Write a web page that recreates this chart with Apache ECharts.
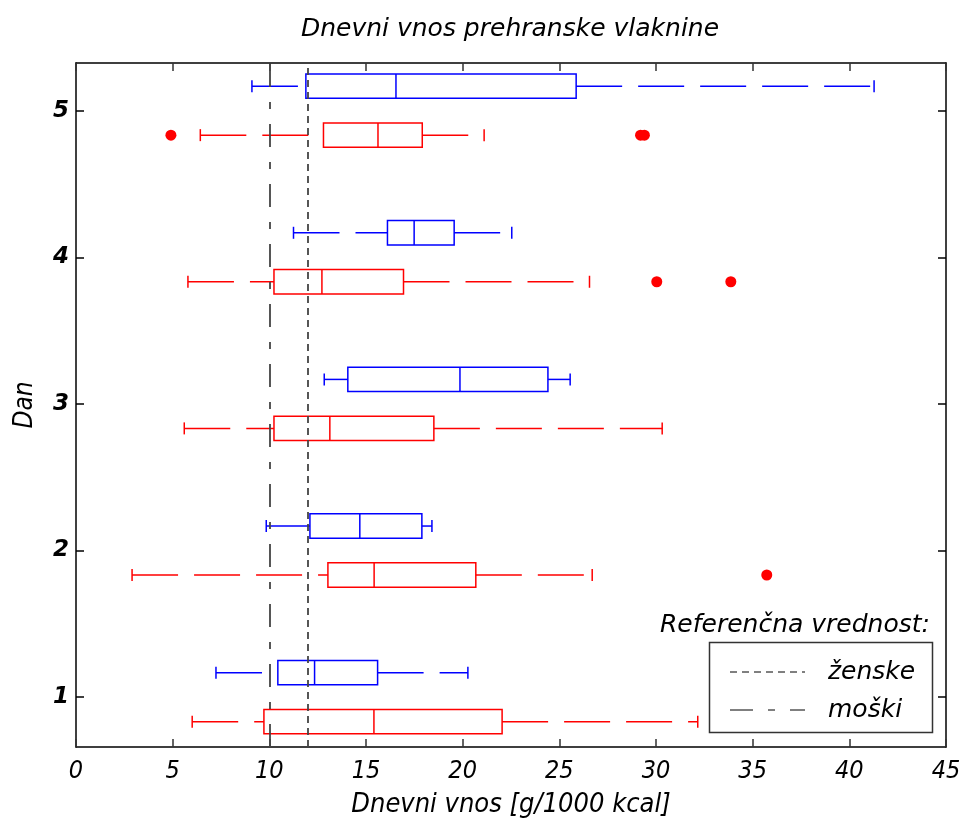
<!DOCTYPE html>
<html><head><meta charset="utf-8">
<script src="https://cdn.jsdelivr.net/npm/echarts@6/dist/echarts.min.js"></script>
<style>html,body{margin:0;padding:0;background:#fff}#c{width:963px;height:818px}</style>
</head><body><div id="c"></div>
<script>
// ---- data ----
const days = [1, 2, 3, 4, 5];
const yTickLabels = ['1', '2', '3', '4', '5'];
// [lower whisker, Q1, median, Q3, upper whisker]
const blueStats = [
  [7.24, 10.44, 12.34, 15.60, 20.27],
  [9.84, 12.10, 14.68, 17.89, 18.41],
  [12.84, 14.06, 19.86, 24.41, 25.56],
  [11.25, 16.11, 17.49, 19.56, 22.54],
  [9.10, 11.89, 16.55, 25.87, 41.28]
];
const redStats = [
  [6.01, 9.72, 15.41, 22.04, 32.16],
  [2.90, 13.03, 15.42, 20.68, 26.70],
  [5.60, 10.24, 13.13, 18.51, 30.32],
  [5.79, 10.24, 12.72, 16.94, 26.56],
  [6.43, 12.80, 15.62, 17.91, 21.11]
];
const redOutlierDays = [2, 4, 4, 5, 5, 5];
const redOutlierValues = [35.73, 30.04, 33.87, 4.91, 29.2, 29.4];
const refZenske = 12;
const refMoski = 10;
const titleText = 'Dnevni vnos prehranske vlaknine';
const xName = 'Dnevni vnos [g/1000 kcal]';
const yName = 'Dan';
const legendTitle = 'Referenčna vrednost:';
const legendNames = ['ženske', 'moški'];

// ---- layout constants ----
const OFF = 0.167, HALF = 0.083, CAP = 6;
const BLUE = '#0000ff', RED = '#ff0000';
const FONT = "'DejaVu Sans', sans-serif";
const COND = "'DejaVu Sans Condensed', 'DejaVu Sans', sans-serif";
const DASH_M = [23, 15, 7, 15], DASH_Z = [7, 5];

function boxRender(color) {
  return function (params, api) {
    const y = api.value(0);
    const mn = api.coord([api.value(1), y]);
    const q1 = api.coord([api.value(2), y]);
    const md = api.coord([api.value(3), y]);
    const q3 = api.coord([api.value(4), y]);
    const mx = api.coord([api.value(5), y]);
    const h = Math.abs(api.size([0, HALF])[1]);
    const cy = mn[1];
    const st = { stroke: color, lineWidth: 1.5, fill: null };
    const dash = { stroke: color, lineWidth: 1.5, lineDash: [46, 16], fill: null };
    return {
      type: 'group', children: [
        { type: 'line', shape: { x1: mn[0], y1: cy, x2: q1[0], y2: cy }, style: dash },
        { type: 'line', shape: { x1: q3[0], y1: cy, x2: mx[0], y2: cy }, style: dash },
        { type: 'line', shape: { x1: mn[0], y1: cy - CAP, x2: mn[0], y2: cy + CAP }, style: st },
        { type: 'line', shape: { x1: mx[0], y1: cy - CAP, x2: mx[0], y2: cy + CAP }, style: st },
        { type: 'rect', shape: { x: q1[0], y: cy - h, width: q3[0] - q1[0], height: 2 * h }, style: { stroke: color, lineWidth: 1.5, fill: 'none' } },
        { type: 'line', shape: { x1: md[0], y1: cy - h, x2: md[0], y2: cy + h }, style: st }
      ]
    };
  };
}

const chart = echarts.init(document.getElementById('c'));
const yMin = 0.66, yMax = 5.325;

chart.setOption({
  animation: false,
  backgroundColor: '#fff',
  title: {
    text: titleText, left: 505, top: 12, textAlign: 'center',
    textStyle: { fontFamily: FONT, fontStyle: 'italic', fontWeight: 'normal', fontSize: 25, color: '#000' }
  },
  grid: { left: 76, right: 17, top: 63, bottom: 71, containLabel: false, outerBoundsMode: 'none' },
  xAxis: [{
    type: 'value', min: 0, max: 45, interval: 5, position: 'bottom',
    axisLine: { show: true, onZero: false, lineStyle: { color: '#000', width: 1.5 } },
    axisTick: { show: true, inside: true, length: 8, lineStyle: { color: '#333', width: 1.5 } },
    axisLabel: { margin: 12, fontFamily: COND, fontStyle: 'italic', fontSize: 25, color: '#000' },
    splitLine: { show: false },
    name: xName, nameLocation: 'middle', nameGap: 44,
    nameTextStyle: { fontFamily: COND, fontStyle: 'italic', fontSize: 27, color: '#000' }
  }, {
    type: 'value', min: 0, max: 45, interval: 5, position: 'top',
    axisLine: { show: true, onZero: false, lineStyle: { color: '#000', width: 1.5 } },
    axisTick: { show: true, inside: true, length: 8, lineStyle: { color: '#333', width: 1.5 } },
    axisLabel: { show: false }, splitLine: { show: false }
  }],
  yAxis: [{
    type: 'value', min: yMin, max: yMax, position: 'left',
    axisLine: { show: true, onZero: false, lineStyle: { color: '#000', width: 1.5 } },
    axisTick: { show: true, inside: true, length: 8, customValues: days, lineStyle: { color: '#000', width: 1.5 } },
    axisLabel: {
      customValues: days, margin: 7, fontFamily: FONT, fontStyle: 'italic', fontWeight: 'bold', fontSize: 23, color: '#000',
      formatter: v => yTickLabels[days.indexOf(v)]
    },
    splitLine: { show: false },
    name: yName, nameLocation: 'middle', nameGap: 38, nameRotate: 90,
    nameTextStyle: { fontFamily: COND, fontStyle: 'italic', fontSize: 26, color: '#000' }
  }, {
    type: 'value', min: yMin, max: yMax, position: 'right',
    axisLine: { show: true, onZero: false, lineStyle: { color: '#000', width: 1.5 } },
    axisTick: { show: true, inside: true, length: 8, customValues: days, lineStyle: { color: '#000', width: 1.5 } },
    axisLabel: { show: false }, splitLine: { show: false }
  }],
  series: [{
    type: 'custom', name: 'blue', renderItem: boxRender(BLUE),
    data: blueStats.map((s, i) => [days[i] + OFF, ...s]),
    encode: { x: [1, 2, 3, 4, 5], y: 0 }, z: 3
  }, {
    type: 'custom', name: 'red', renderItem: boxRender(RED),
    data: redStats.map((s, i) => [days[i] - OFF, ...s]),
    encode: { x: [1, 2, 3, 4, 5], y: 0 }, z: 3
  }, {
    type: 'scatter', name: 'outliers', symbol: 'circle', symbolSize: 11,
    itemStyle: { color: RED, opacity: 1 },
    data: redOutlierValues.map((v, i) => [v, redOutlierDays[i] - OFF]),
    z: 4,
    markLine: {
      silent: true, symbol: 'none', label: { show: false },
      data: [
        { xAxis: refMoski, lineStyle: { type: DASH_M, color: '#444', width: 1.8 } },
        { xAxis: refZenske, lineStyle: { type: DASH_Z, color: '#444', width: 1.8 } }
      ]
    }
  }],
  graphic: [
    { type: 'text', z: 100, style: { text: legendTitle, x: 930, y: 625, align: 'right', verticalAlign: 'middle', font: "italic 25px 'DejaVu Sans'", fill: '#000' } },
    { type: 'rect', z: 100, shape: { x: 709.5, y: 642.5, width: 223, height: 90 }, style: { fill: '#fff', stroke: '#333', lineWidth: 1.5 } },
    { type: 'line', z: 101, shape: { x1: 730, y1: 672, x2: 805, y2: 672 }, style: { stroke: '#000', lineWidth: 1, lineDash: DASH_Z } },
    { type: 'text', z: 101, style: { text: legendNames[0], x: 828, y: 672, verticalAlign: 'middle', font: "italic 25px 'DejaVu Sans'", fill: '#000' } },
    { type: 'line', z: 101, shape: { x1: 730, y1: 710, x2: 805, y2: 710 }, style: { stroke: '#000', lineWidth: 1, lineDash: DASH_M } },
    { type: 'text', z: 101, style: { text: legendNames[1], x: 828, y: 710, verticalAlign: 'middle', font: "italic 25px 'DejaVu Sans'", fill: '#000' } }
  ]
});
</script>
</body></html>
